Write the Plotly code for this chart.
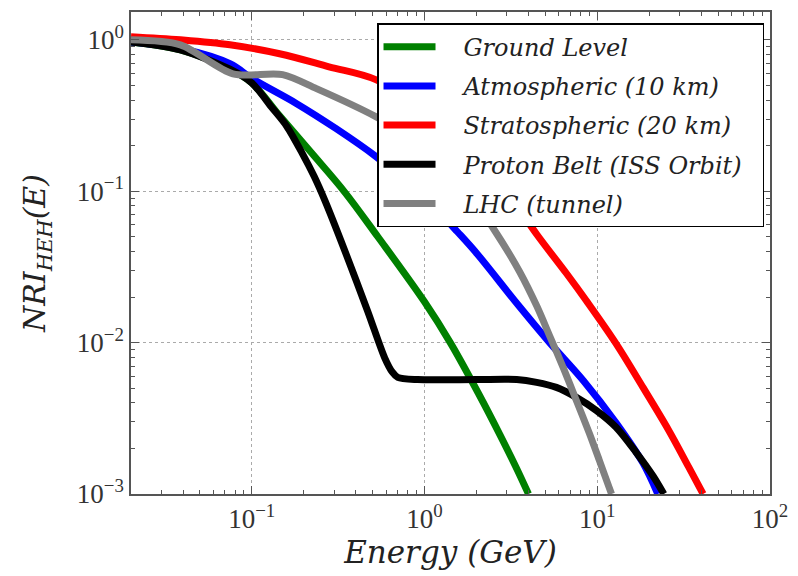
import plotly.graph_objects as go

# Neutron reliability index NRI_HEH(E) vs. energy for several radiation environments
ground_E = [0.02, 0.0386, 0.0748, 0.1, 0.145, 0.221, 0.347, 0.537, 1.0, 1.41, 2.05, 2.73, 3.42, 4.0]
ground_V = [0.97, 0.86, 0.64, 0.52, 0.315, 0.18, 0.098, 0.050, 0.0186, 0.010, 0.00463, 0.00247, 0.00147, 0.001]

atmos_E = [0.02, 0.04, 0.0748, 0.101, 0.182, 0.308, 0.522, 1.0, 1.55, 2.02, 3.42, 5.3, 8.32, 12.85, 18.4, 22.4]
atmos_V = [0.97, 0.87, 0.695, 0.553, 0.379, 0.259, 0.170, 0.092, 0.054, 0.0385, 0.0182, 0.0100, 0.0056, 0.00295, 0.0016, 0.001]

strat_E = [0.02, 0.0386, 0.0748, 0.145, 0.28, 0.522, 1.0, 2.0, 3.0, 4.46, 6.64, 8.65, 12.85, 18.4, 25.9, 33.8, 41.0]
strat_V = [1.05, 1.0, 0.927, 0.81, 0.664, 0.546, 0.35, 0.168, 0.099, 0.052, 0.0286, 0.0189, 0.00985, 0.00506, 0.00264, 0.00151, 0.001]

belt_E = [0.02, 0.0386, 0.0748, 0.1, 0.13, 0.159, 0.195, 0.23, 0.266, 0.347, 0.47, 0.589, 0.65, 0.70, 0.91,
          2.0, 3.42, 4.46, 5.8, 7.57, 9.86, 12.85, 16.7, 21.0, 24.3]
belt_V = [0.97, 0.86, 0.64, 0.52, 0.36, 0.27, 0.18, 0.125, 0.086, 0.040, 0.016, 0.0079, 0.0064, 0.0059, 0.0057,
          0.0057, 0.0057, 0.00546, 0.00506, 0.00435, 0.00357, 0.00276, 0.0019, 0.00132, 0.001]

lhc_E = [0.02, 0.0386, 0.0778, 0.151, 0.237, 0.522, 1.0, 1.7, 2.63, 3.56, 4.46, 5.3, 6.38, 7.57, 9.0, 10.26, 11.7, 12.1]
lhc_V = [1.0, 0.927, 0.597, 0.589, 0.476, 0.311, 0.20, 0.107, 0.052, 0.0293, 0.0175, 0.0111, 0.00675, 0.00415, 0.00252, 0.00168, 0.00111, 0.001]

series = [
    ("Ground Level", ground_E, ground_V, "#008000", 1.0),
    ("Atmospheric (10 km)", atmos_E, atmos_V, "#0000ff", 1.0),
    ("Stratospheric (20 km)", strat_E, strat_V, "#ff0000", 1.0),
    ("Proton Belt (ISS Orbit)", belt_E, belt_V, "#000000", 0.8),
    ("LHC (tunnel)", lhc_E, lhc_V, "#808080", 0.8),
]

x_ticks = [0.1, 1, 10, 100]
x_text = ["10<sup>−1</sup>", "10<sup>0</sup>", "10<sup>1</sup>", "10<sup>2</sup>"]
y_ticks = [0.001, 0.01, 0.1, 1]
y_text = ["10<sup>−3</sup>", "10<sup>−2</sup>", "10<sup>−1</sup>", "10<sup>0</sup>"]

fig = go.Figure()
for i, (name, xs, ys, col, sm) in enumerate(series):
    fig.add_trace(go.Scatter(
        x=xs, y=ys, mode="lines", name="&nbsp;&nbsp;&nbsp;<i>" + name + "</i>&nbsp;&nbsp;",
        legendgroup=f"g{i}",
        line=dict(color=col, width=7, shape="spline", smoothing=sm),
    ))

axis_common = dict(
    type="log",
    showline=True, linecolor="#555555", linewidth=1.5, mirror="allticks",
    ticks="inside", ticklen=8, tickwidth=1, tickcolor="#555555",
    showgrid=True, gridcolor="#aaaaaa", griddash="dot", gridwidth=1,
    zeroline=False,
    tickfont=dict(family="Liberation Serif", size=27, color="#333333"),
    minor=dict(ticks="inside", ticklen=4, tickcolor="#555555", dtick="D1", showgrid=False),
)

fig.update_xaxes(range=[-1.699, 2], tickvals=x_ticks, ticktext=x_text,
                 title=dict(text="<i>Energy (GeV)</i>",
                            font=dict(family="DejaVu Serif", size=31, color="#222222"),
                            standoff=6),
                 **axis_common)
fig.update_yaxes(range=[-3, 0.184], tickvals=y_ticks, ticktext=y_text,
                 title=dict(text="<i>NRI<sub>HEH</sub>(E)</i>",
                            font=dict(family="DejaVu Serif", size=30, color="#222222"),
                            standoff=22),
                 **axis_common)

fig.update_layout(
    width=798, height=576,
    margin=dict(l=131, r=23, t=10, b=82),
    paper_bgcolor="white", plot_bgcolor="white",
    showlegend=True,
    legend=dict(
        x=0.385, y=0.977, xanchor="left", yanchor="top",
        bgcolor="white", bordercolor="black", borderwidth=1.5,
        font=dict(family="DejaVu Serif", size=24, color="#222222"),
        tracegroupgap=5, itemwidth=52,
    ),
)

fig.write_html("out.html")
